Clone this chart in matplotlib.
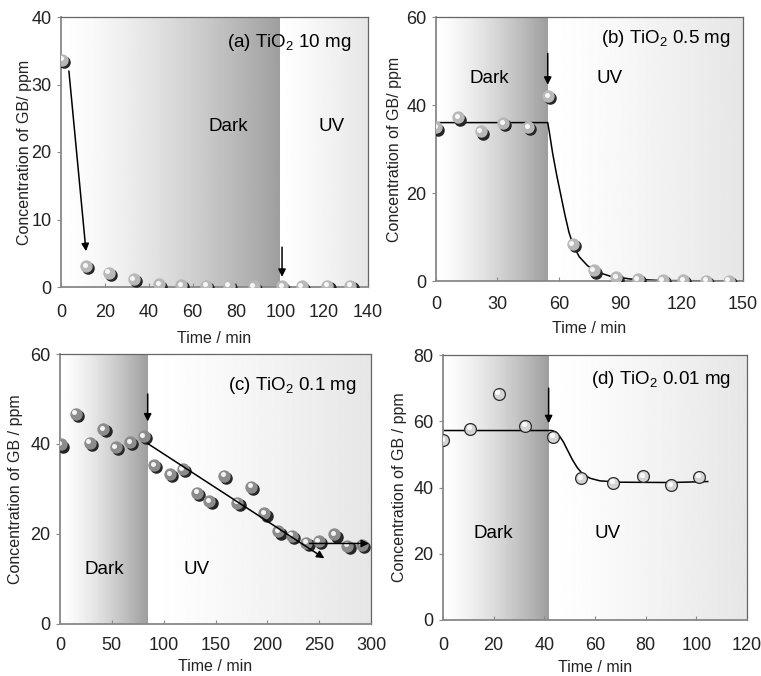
import matplotlib
matplotlib.use("Agg")
import matplotlib.pyplot as plt
import numpy as np
from matplotlib.transforms import offset_copy

plt.rcParams['font.family'] = ['Liberation Sans', 'DejaVu Sans']
plt.rcParams['mathtext.fontset'] = 'custom'
plt.rcParams['mathtext.rm'] = 'Liberation Sans'
plt.rcParams['mathtext.it'] = 'Liberation Sans:italic'

# (a) TiO2 10 mg
a_time = [0.5, 11.4, 21.8, 33.2, 44.7, 54.8, 66.2, 76.5, 87.9, 100.8, 109.8, 121.5, 132.0]
a_conc = [33.7, 3.1, 2.1, 1.2, 0.4, 0.3, 0.2, 0.2, 0.1, 0.1, 0.1, 0.2, 0.2]
a_dark_end = 100

# (b) TiO2 0.5 mg
b_time = [0, 10.7, 21.8, 32.7, 45, 54.7, 66.8, 77, 87.9, 98.5, 110.7, 120.7, 132, 143]
b_conc = [34.9, 37.2, 34.0, 35.9, 35.0, 42.0, 8.4, 2.4, 0.8, 0.4, 0.2, 0.2, 0.1, 0.1]
b_fit_time = [0, 54.6, 55.5, 57, 59, 61, 63, 65, 67, 70, 74, 78, 85, 95, 110, 150]
b_fit_conc = [36, 36, 33.5, 29, 24, 19.5, 15, 11, 8.2, 5.5, 3.5, 2.2, 1.1, 0.45, 0.1, 0]
b_dark_end = 54.6

# (c) TiO2 0.1 mg
c_time = [0.6, 15.2, 28.5, 41.8, 53.9, 67.5, 80.8, 90.9, 106.1, 118.2, 132.1, 144.2,
          158.4, 171.1, 184.4, 197.1, 210.7, 223.4, 237.6, 249.7, 264.6, 277.2, 291.5]
c_conc = [39.9, 46.7, 40.3, 43.3, 39.3, 40.4, 41.8, 35.3, 33.3, 34.4, 29.2, 27.3,
          33.0, 27.0, 30.5, 24.6, 20.6, 19.6, 18.1, 18.4, 19.9, 17.4, 17.6]
c_dark_end = 84.6

# (d) TiO2 0.01 mg
d_time = [0, 10.7, 22, 32.5, 43.5, 54.5, 67.3, 79, 90, 101.2]
d_conc = [54.3, 57.7, 68.3, 58.7, 55.3, 42.9, 41.4, 43.5, 40.7, 43.3]
d_fit_time = [0, 43, 44.5, 46, 47.5, 49, 51, 53, 55, 58, 62, 70, 90, 104.5]
d_fit_conc = [57.2, 57.2, 56.8, 55.5, 53.8, 51.5, 48.5, 46, 44.2, 42.8, 42.0, 41.6, 41.5, 41.8]
d_dark_end = 41.7

fig = plt.figure(figsize=(7.61, 6.76), dpi=100)


def make_axes(rect_px, xlim, ylim, xticks, yticks, dark_end, ylabel, xlab_y, ylab_x, xpad):
    l, t, r, b = rect_px
    ax = fig.add_axes([l / 761, 1 - b / 676, (r - l) / 761, (b - t) / 676])
    s = np.linspace(0, 1, 256)
    g1 = (1.0 - 0.38 * s ** 1.4).reshape(1, -1)
    g2 = (1.0 - 0.10 * s ** 1.2).reshape(1, -1)
    ax.imshow(g1, extent=[xlim[0], dark_end, ylim[0], ylim[1]], cmap='gray',
              vmin=0, vmax=1, aspect='auto', zorder=0)
    ax.imshow(g2, extent=[dark_end, xlim[1], ylim[0], ylim[1]], cmap='gray',
              vmin=0, vmax=1, aspect='auto', zorder=0)
    ax.set_xlim(*xlim)
    ax.set_ylim(*ylim)
    ax.set_xticks(xticks)
    ax.set_yticks(yticks)
    ax.tick_params(axis='x', direction='in', length=3, pad=xpad, labelsize=13, colors='#222222')
    ax.tick_params(axis='y', direction='out', length=3, pad=4, labelsize=13, colors='#222222')
    ax.tick_params(color='#888888')
    for sp in ['left', 'bottom']:
        ax.spines[sp].set_color('#888888')
        ax.spines[sp].set_linewidth(1.3)
    for sp in ['top', 'right']:
        ax.spines[sp].set_color('#666666')
        ax.spines[sp].set_linewidth(0.9)
    ax.set_xlabel('Time / min', fontsize=11.5, color='#222222')
    ax.set_ylabel(ylabel, fontsize=11.5, color='#222222')
    ax.xaxis.set_label_coords(0.5, xlab_y)
    ax.yaxis.set_label_coords(ylab_x, 0.5)
    return ax


def spheres(ax, x, y, face, edge, shadow=True, ms=8):
    if shadow:
        ax.plot(x, y, 'o', ms=ms, color='#262626', mec='#262626', zorder=3,
                transform=offset_copy(ax.transData, fig=fig, x=1.6, y=-1.6, units='points'))
    ax.plot(x, y, 'o', ms=ms, mfc=face, mec=edge, mew=0.9, zorder=4)
    ax.plot(x, y, 'o', ms=ms * 0.45, color='white', mec='none', alpha=0.9, zorder=5,
            transform=offset_copy(ax.transData, fig=fig, x=-1.0, y=1.0, units='points'))


def arrow(ax, start, end, lw=1.1):
    ax.annotate('', xy=end, xytext=start,
                arrowprops=dict(arrowstyle='-|>', color='black', lw=lw,
                                mutation_scale=11, shrinkA=0, shrinkB=0), zorder=6)


# panel (a)
ax = make_axes((61, 17, 368, 287), (0, 140), (0, 40), range(0, 141, 20), range(0, 41, 10),
               a_dark_end, 'Concentration of GB/ ppm', -0.163, -0.094, 12)
spheres(ax, a_time, a_conc, '#b8b8b8', '#b8b8b8')
arrow(ax, (3.6, 32), (11.4, 5.3))
arrow(ax, (100.8, 5.9), (100.8, 1.5))
ax.text(0.945, 0.904, '(a) TiO$_2$ 10 mg', transform=ax.transAxes, ha='right', va='center', fontsize=13.5)
ax.text(76.5, 23.8, 'Dark', ha='center', va='center', fontsize=13.5)
ax.text(123.5, 23.8, 'UV', ha='center', va='center', fontsize=13.5)

# panel (b)
ax = make_axes((436, 17, 743, 281), (0, 150), (0, 60), range(0, 151, 30), range(0, 61, 20),
               b_dark_end, 'Concentration of GB/ ppm', -0.15, -0.111, 11)
ax.plot(b_fit_time, b_fit_conc, color='black', lw=1.1, zorder=2)
spheres(ax, b_time, b_conc, '#b8b8b8', '#b8b8b8')
arrow(ax, (54.6, 51.7), (54.6, 44.6))
ax.text(0.959, 0.917, '(b) TiO$_2$ 0.5 mg', transform=ax.transAxes, ha='right', va='center', fontsize=13.5)
ax.text(26, 46, 'Dark', ha='center', va='center', fontsize=13.5)
ax.text(85, 46, 'UV', ha='center', va='center', fontsize=13.5)

# panel (c)
ax = make_axes((60, 354, 371, 624), (0, 300), (0, 60), range(0, 301, 50), range(0, 61, 20),
               c_dark_end, 'Concentration of GB / ppm', -0.13, -0.119, 9.5)
spheres(ax, c_time, c_conc, '#8c8c8c', '#8c8c8c')
arrow(ax, (84.6, 51.1), (84.6, 45.0))
arrow(ax, (84.6, 40.1), (255, 14.6))
arrow(ax, (240.8, 17.9), (298, 17.9))
ax.text(0.952, 0.885, '(c) TiO$_2$ 0.1 mg', transform=ax.transAxes, ha='right', va='center', fontsize=13.5)
ax.text(42.8, 12, 'Dark', ha='center', va='center', fontsize=13.5)
ax.text(131.5, 12, 'UV', ha='center', va='center', fontsize=13.5)

# panel (d)
ax = make_axes((443, 355, 747, 620), (0, 120), (0, 80), range(0, 121, 20), range(0, 81, 20),
               d_dark_end, 'Concentration of GB / ppm', -0.15, -0.118, 12)
ax.plot(d_fit_time, d_fit_conc, color='black', lw=1.1, zorder=2)
spheres(ax, d_time, d_conc, '#d4d4d4', '#2a2a2a', shadow=False, ms=8.5)
arrow(ax, (41.7, 70), (41.7, 59.4))
ax.text(0.947, 0.906, '(d) TiO$_2$ 0.01 mg', transform=ax.transAxes, ha='right', va='center', fontsize=13.5)
ax.text(19.7, 26.2, 'Dark', ha='center', va='center', fontsize=13.5)
ax.text(65, 26.2, 'UV', ha='center', va='center', fontsize=13.5)

fig.savefig('out.png', dpi=100)
